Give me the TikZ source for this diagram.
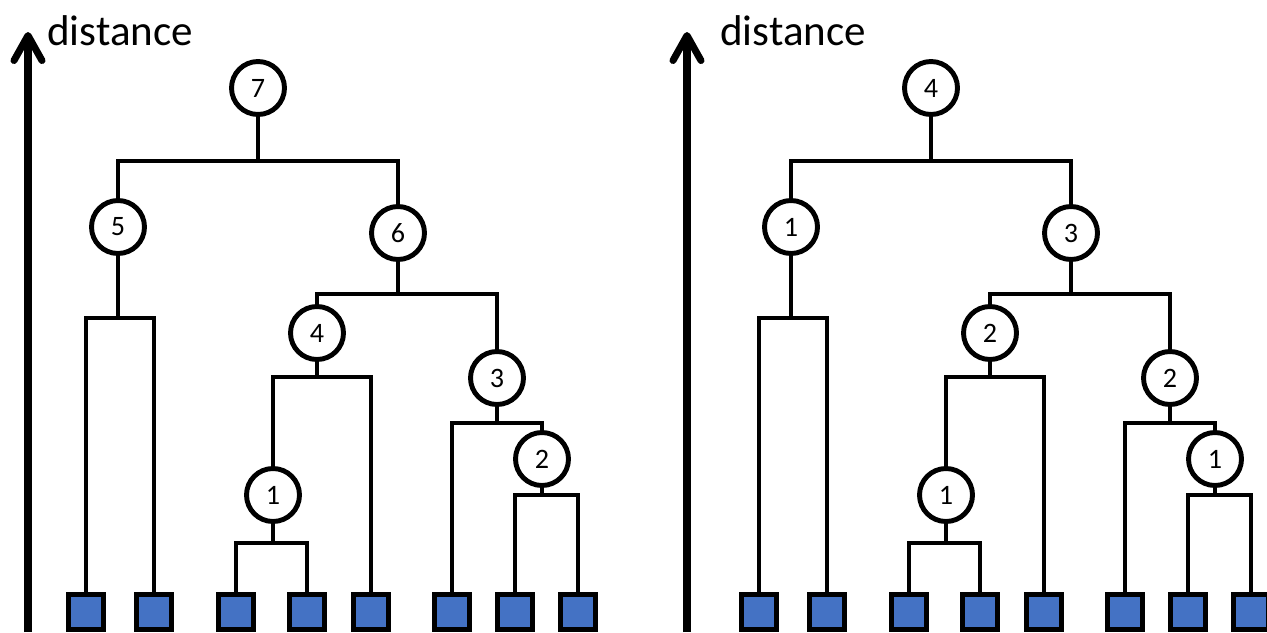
\documentclass[tikz,border=0pt]{standalone}
\usepackage{fontspec}
\setmainfont{Carlito}
\usetikzlibrary{arrows.meta}
\definecolor{leafblue}{RGB}{68,114,196}

\begin{document}
\begin{tikzpicture}[x=0.02cm,y=-0.02cm,
	tree/.style={line width=2.8pt},
	merge/.style={circle,draw,line width=2.8pt,fill=white,minimum size=1.06cm,
		inner sep=0pt,font=\fontsize{16}{16}\selectfont},
	leaf/.style={draw,line width=2.8pt,fill=leafblue,minimum size=0.7cm,inner sep=0pt},
	axis/.style={line width=4pt,-{Straight Barb[round,length=0.5cm,width=0.56cm]}}]
	\useasboundingbox (0,0) rectangle (1267,632);
	\foreach \p/\dx/\ax/\sA/\sB/\sC/\sD/\sE/\sF/\sG in
		{L/0/28/1/2/3/4/5/6/7, R/673/14/1/1/2/2/1/3/4}{
	\begin{scope}[xshift=\dx*0.02cm]
		% axis
		\draw[axis] (\ax,632) -- (\ax,32);
		\node[anchor=base west,inner sep=0pt,font=\fontsize{24.5}{24.5}\selectfont]
			(\p-dist) at (47,45) {distance};
		% leaves
		\foreach \x [count=\i] in {86,154,236,307,371,452,515,578}
			\node[leaf] (\p-l\i) at (\x,612) {};
		% merges
		\node[merge] (\p-c1) at (273,495) {\sA};
		\node[merge] (\p-c2) at (542,459) {\sB};
		\node[merge] (\p-c3) at (497,378) {\sC};
		\node[merge] (\p-c4) at (317,333) {\sD};
		\node[merge] (\p-c5) at (118,227) {\sE};
		\node[merge] (\p-c6) at (398,233) {\sF};
		\node[merge] (\p-c7) at (258,88) {\sG};
		\coordinate (\p-b1) at (273,543);
		\coordinate (\p-b2) at (542,495);
		\coordinate (\p-b3) at (497,423);
		\coordinate (\p-b4) at (317,377);
		\coordinate (\p-b5) at (118,318);
		\coordinate (\p-b6) at (398,294);
		\coordinate (\p-b7) at (258,161);
		% branches
		\draw[tree] (\p-l3.north) |- (\p-b1) -| (\p-l4.north);
		\draw[tree] (\p-l7.north) |- (\p-b2) -| (\p-l8.north);
		\draw[tree] (\p-l6.north) |- (\p-b3) -| (\p-c2.north);
		\draw[tree] (\p-c1.north) |- (\p-b4) -| (\p-l5.north);
		\draw[tree] (\p-l1.north) |- (\p-b5) -| (\p-l2.north);
		\draw[tree] (\p-c4.north) |- (\p-b6) -| (\p-c3.north);
		\draw[tree] (\p-c5.north) |- (\p-b7) -| (\p-c6.north);
		\foreach \k in {1,...,7}
			\draw[tree] (\p-c\k.south) -- (\p-b\k);
	\end{scope}}
\end{tikzpicture}
\end{document}
